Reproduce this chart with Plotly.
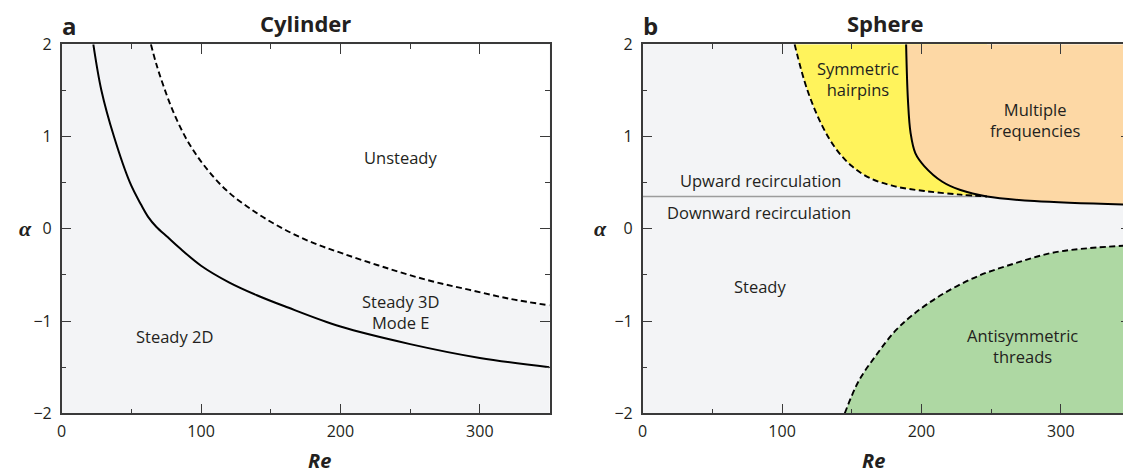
import plotly.graph_objects as go

# ---------------- data ----------------
RE_RANGE = [0, 350]
ALPHA_RANGE = [-2, 2]

x_ticks = [0, 100, 200, 300]
y_ticks = [-2, -1, 0, 1, 2]

# Panel a: Cylinder
cyl_steady2d_re = [22.7, 28.5, 37.5, 49, 57, 62, 68, 76, 84, 100, 120, 140, 160, 200, 250, 300, 350]
cyl_steady2d_alpha = [2.0, 1.5, 1.0, 0.5, 0.26, 0.13, 0.02, -0.09, -0.2, -0.40, -0.58, -0.72, -0.84, -1.06, -1.25, -1.40, -1.50]

cyl_unsteady_re = [64, 68, 73, 80, 90, 102, 118, 138, 159, 180, 202, 230, 261, 292, 322, 350]
cyl_unsteady_alpha = [2.0, 1.78, 1.55, 1.27, 0.96, 0.69, 0.42, 0.19, 0.0, -0.15, -0.27, -0.41, -0.55, -0.66, -0.76, -0.83]

# Panel b: Sphere
hairpin_re = [109, 118, 129, 139, 150, 163, 181, 202, 228, 247]
hairpin_alpha = [2.0, 1.51, 1.11, 0.86, 0.68, 0.55, 0.46, 0.41, 0.37, 0.35]

multi_re = [189, 190.3, 192.2, 195.6, 202, 215, 228, 247, 281, 350]
multi_alpha = [2.0, 1.40, 1.04, 0.82, 0.68, 0.51, 0.42, 0.35, 0.30, 0.26]

thread_re = [145, 155, 168, 181, 194, 215, 241, 268, 294, 320, 350]
thread_alpha = [-2.0, -1.65, -1.36, -1.11, -0.93, -0.71, -0.51, -0.37, -0.26, -0.21, -0.18]

recirc_alpha = 0.35

# ---------------- styles ----------------
BG = "#F3F4F6"
YELLOW = "#FFF35C"
ORANGE = "#FDD8A5"
GREEN = "#AED8A3"
TXT = "#231F20"
AX = "#3A3A3A"
FONT = "Open Sans"
DASH = "6px,3.5px"

fig = go.Figure()


def region(xa, ya, curve_x, curve_y, edge, color):
    # invisible edge line along the plot boundary, then fill from curve to it
    fig.add_trace(go.Scatter(x=[curve_x[0], curve_x[-1]], y=[edge, edge], mode="lines",
                             line=dict(width=0), hoverinfo="skip", showlegend=False,
                             xaxis=xa, yaxis=ya))
    fig.add_trace(go.Scatter(x=curve_x, y=curve_y, mode="lines", fill="tonexty",
                             fillcolor=color, line=dict(width=0, shape="spline"),
                             hoverinfo="skip", showlegend=False, xaxis=xa, yaxis=ya))


def curve(xa, ya, cx, cy, dash=None, width=2.0, color="black"):
    fig.add_trace(go.Scatter(x=cx, y=cy, mode="lines",
                             line=dict(color=color, width=width, shape="spline", dash=dash),
                             hoverinfo="skip", showlegend=False, xaxis=xa, yaxis=ya))


# Panel a fills / lines
region("x", "y", cyl_unsteady_re, cyl_unsteady_alpha, ALPHA_RANGE[1], "white")
curve("x", "y", cyl_steady2d_re, cyl_steady2d_alpha, width=2.0)
curve("x", "y", cyl_unsteady_re, cyl_unsteady_alpha, dash=DASH, width=1.9)

# Panel b fills / lines
region("x2", "y2", hairpin_re, hairpin_alpha, ALPHA_RANGE[1], YELLOW)
region("x2", "y2", multi_re, multi_alpha, ALPHA_RANGE[1], ORANGE)
region("x2", "y2", thread_re, thread_alpha, ALPHA_RANGE[0], GREEN)
curve("x2", "y2", [RE_RANGE[0], hairpin_re[-1]], [recirc_alpha, recirc_alpha], width=1.6, color="#9C9C9C")
curve("x2", "y2", hairpin_re, hairpin_alpha, dash=DASH, width=1.9)
curve("x2", "y2", multi_re, multi_alpha, width=2.0)
curve("x2", "y2", thread_re, thread_alpha, dash=DASH, width=1.9)

axis_common = dict(
    showline=True, linecolor=AX, linewidth=1.5, mirror="allticks",
    ticks="inside", ticklen=10, tickwidth=1.3, tickcolor=AX,
    showgrid=False, zeroline=False, automargin=False,
    tickfont=dict(family=FONT, size=16, color=TXT),
)

# The page body has an 8px margin; lay out in window pixels, shifted by it.
OFF = 8
W, H = 1131 - OFF, 473 - OFF


def fx(p):
    return (p - OFF) / W


def fy(p):
    return 1 - (p - OFF) / H


xa_dom = [fx(61.7), fx(549.5)]
xb_dom = [fx(642.7), fx(1130.5)]
y_dom = [fy(413.3), fy(44.3)]

minor_x = dict(dtick=50, ticklen=5, ticks="inside", tickcolor=AX, tickwidth=1.3)
minor_y = dict(dtick=0.5, ticklen=5, ticks="inside", tickcolor=AX, tickwidth=1.3)

fig.update_layout(
    width=W, height=H,
    margin=dict(l=0, r=0, t=0, b=0, pad=0, autoexpand=False),
    paper_bgcolor="white", plot_bgcolor=BG,
    xaxis=dict(domain=xa_dom, range=RE_RANGE, tickvals=x_ticks, anchor="y",
               minor=minor_x, ticklabelstandoff=3, **axis_common),
    yaxis=dict(domain=y_dom, range=ALPHA_RANGE, tickvals=y_ticks, anchor="x",
               minor=minor_y, ticklabelstandoff=5, **axis_common),
    xaxis2=dict(domain=xb_dom, range=RE_RANGE, tickvals=x_ticks, anchor="y2",
                minor=minor_x, ticklabelstandoff=3, **axis_common),
    yaxis2=dict(domain=y_dom, range=ALPHA_RANGE, tickvals=y_ticks, anchor="x2",
                minor=minor_y, ticklabelstandoff=5, **axis_common),
)

lab = dict(family=FONT, size=16.5, color=TXT)
ann = []


def text(xr, yr, x, y, s, font=lab, **kw):
    ann.append(dict(xref=xr, yref=yr, x=x, y=y, text=s, showarrow=False, font=font,
                    align="center", **kw))


# region labels, panel a
text("x", "y", 243, 0.77, "Unsteady")
text("x", "y", 243, -0.9, "Steady 3D<br>Mode E")
text("x", "y", 81, -1.17, "Steady 2D")
# region labels, panel b
text("x2", "y2", 154.5, 1.62, "Symmetric<br>hairpins")
text("x2", "y2", 281.4, 1.18, "Multiple<br>frequencies")
text("x2", "y2", 84.3, 0.52, "Upward recirculation")
text("x2", "y2", 83.8, 0.18, "Downward recirculation")
text("x2", "y2", 84.3, -0.63, "Steady")
text("x2", "y2", 272.8, -1.27, "Antisymmetric<br>threads")

# panel letters and titles
bold = dict(family=FONT, size=22, color=TXT, weight="bold")
letter = dict(family=FONT, size=24, color=TXT, weight="bold")
text("paper", "paper", fx(61), fy(25), "a", font=letter, xanchor="left", yanchor="middle", borderpad=0)
text("paper", "paper", fx(305), fy(23), "Cylinder", font=bold, xanchor="center", yanchor="middle")
text("paper", "paper", fx(642), fy(25), "b", font=letter, xanchor="left", yanchor="middle", borderpad=0)
text("paper", "paper", fx(885), fy(23), "Sphere", font=bold, xanchor="center", yanchor="middle")

# axis titles
re_font = dict(family=FONT, size=20, color=TXT, weight="bold", style="italic")
al_font = dict(family="Liberation Serif", size=22, color=TXT, weight="bold", style="italic")
text("paper", "paper", fx(305.6), fy(460), "Re", font=re_font, yanchor="middle")
text("paper", "paper", fx(886.6), fy(460), "Re", font=re_font, yanchor="middle")
text("paper", "paper", fx(17), fy(228), "α", font=al_font, yanchor="middle")
text("paper", "paper", fx(600), fy(228), "α", font=al_font, yanchor="middle")

fig.update_layout(annotations=ann)
fig.write_html("out.html")
